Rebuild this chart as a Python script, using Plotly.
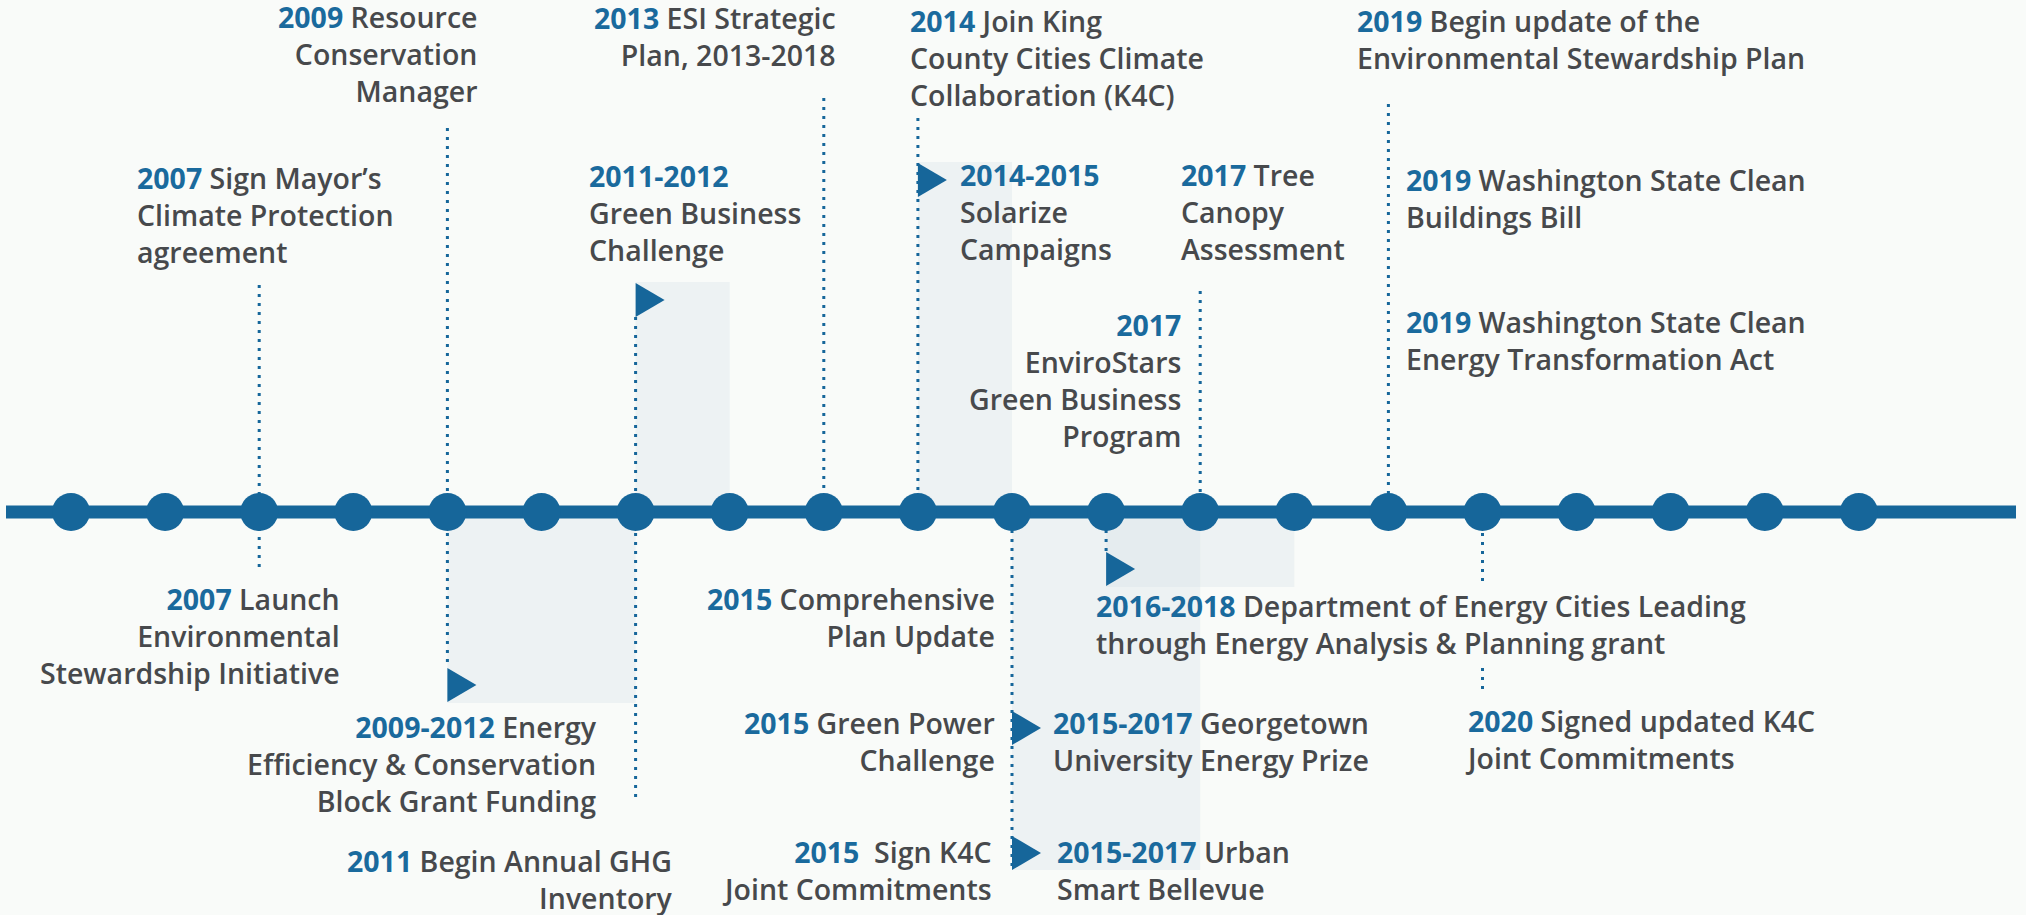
import plotly.graph_objects as go

# ---------------- data ----------------
timeline_years = [2005, 2006, 2007, 2008, 2009, 2010, 2011, 2012, 2013, 2014,
                  2015, 2016, 2017, 2018, 2019, 2020, 2021, 2022, 2023, 2024]

# milestone labels (anchor year, bold year label, description)
event_years = [2009, 2007, 2013, 2011, 2014, 2014, 2017, 2017, 2019, 2019, 2019,
               2007, 2009, 2011, 2015, 2016, 2015, 2015, 2015, 2015, 2020]
event_year_labels = ["2009", "2007", "2013", "2011-2012", "2014", "2014-2015", "2017", "2017",
                     "2019", "2019", "2019",
                     "2007", "2009-2012", "2011", "2015", "2016-2018", "2015", "2015-2017",
                     "2015 ", "2015-2017", "2020"]
event_texts = [
    " Resource\nConservation\nManager",
    " Sign Mayor’s\nClimate Protection\nagreement",
    " ESI Strategic\nPlan, 2013-2018",
    "\nGreen Business\nChallenge",
    " Join King\nCounty Cities Climate\nCollaboration (K4C)",
    "\nSolarize\nCampaigns",
    " Tree\nCanopy\nAssessment",
    "\nEnviroStars\nGreen Business\nProgram",
    " Begin update of the\nEnvironmental Stewardship Plan",
    " Washington State Clean\nBuildings Bill",
    " Washington State Clean\nEnergy Transformation Act",
    " Launch\nEnvironmental\nStewardship Initiative",
    " Energy\nEfficiency & Conservation\nBlock Grant Funding",
    " Begin Annual GHG\nInventory",
    " Comprehensive\nPlan Update",
    " Department of Energy Cities Leading\nthrough Energy Analysis & Planning grant",
    " Green Power\nChallenge",
    " Georgetown\nUniversity Energy Prize",
    " Sign K4C\nJoint Commitments",
    " Urban\nSmart Bellevue",
    " Signed updated K4C\nJoint Commitments",
]

# multi-year programmes (start year, end year)
span_starts = [2009, 2011, 2014, 2015, 2016]
span_ends = [2011, 2012, 2015, 2017, 2018]

# start markers (flags) for programmes
flag_years = [2011, 2014, 2009, 2016, 2015, 2015]

# connector years
connector_years = [2007, 2009, 2011, 2013, 2014, 2015, 2016, 2017, 2019, 2020, 2020]

# ---------------- layout / style ----------------
W, H = 2026, 915
PX_PER_YEAR = 94.1
X0_PX = 71.0                      # pixel of first timeline year
LINE_Y = 512
BLUE = "#16669a"
YEAR_BLUE = "#1a6a9d"
GRAY = "#47494c"
BG = "#f9fbf9"
SPAN_FILL = "rgba(214,224,231,0.33)"
FONT = "Open Sans"
FONT_SIZE = 28.5
Y_ADJ = -2.5

x_lo = timeline_years[0] - X0_PX / PX_PER_YEAR
x_hi = x_lo + W / PX_PER_YEAR

# label placement: (x shift px from anchor year, block centre y, side of anchor)
label_place = [
    (31, 56.5, "right"), (-123, 217.5, "left"), (13, 38.5, "right"), (-48, 215.5, "left"),
    (-9, 60.5, "left"), (41, 214.5, "left"), (-20, 214.5, "left"), (-18, 382.5, "right"),
    (-32, 42, "left"), (17, 201, "left"), (17, 343, "left"),
    (82, 638.5, "right"), (151, 766, "right"), (38, 882, "right"), (-16, 620, "right"),
    (-11, 626.5, "left"), (-16, 744, "right"), (40, 744, "left"), (-19, 872.5, "right"),
    (44, 872.5, "left"), (-19, 742, "left"),
]
span_y = [(512, 703), (282, 512), (162, 512), (512, 870), (512, 587)]
flag_y = [300, 180, 685, 569, 728, 853]
connector_y = [(285, 570), (128, 668), (317, 800), (98, 512), (118, 512), (512, 870),
               (512, 552), (291, 512), (104, 512), (533, 582), (668, 695)]
line_ends = (x_lo + 6 / PX_PER_YEAR, x_lo + 2016 / PX_PER_YEAR)

fig = go.Figure()
shapes = []

# shaded programme spans
for s, e, (ya, yb) in zip(span_starts, span_ends, span_y):
    shapes.append(dict(type="rect", xref="x", yref="y", x0=s, x1=e, y0=ya, y1=yb,
                       fillcolor=SPAN_FILL, line=dict(width=0), layer="below"))

# dotted connectors
for yr, (ya, yb) in zip(connector_years, connector_y):
    shapes.append(dict(type="line", xref="x", yref="y", x0=yr, x1=yr, y0=ya, y1=yb,
                       line=dict(color=BLUE, width=3, dash="3px,6px"), layer="below"))

# flags (right-pointing triangles)
for yr, yc in zip(flag_years, flag_y):
    shapes.append(dict(type="path", xref="x", yref="y", xsizemode="pixel", xanchor=yr,
                       path=f"M0,{yc-17} L29,{yc} L0,{yc+17} Z",
                       fillcolor=BLUE, line=dict(width=0), layer="above"))

# main timeline line
fig.add_trace(go.Scatter(x=list(line_ends), y=[LINE_Y, LINE_Y], mode="lines",
                         line=dict(color=BLUE, width=13), hoverinfo="skip", showlegend=False))
# year dots
fig.add_trace(go.Scatter(x=timeline_years, y=[LINE_Y] * len(timeline_years), mode="markers",
                         marker=dict(color=BLUE, size=38, line=dict(width=0)),
                         hoverinfo="x", showlegend=False))

annotations = []
for yr, ylab, txt, (dx, yc, side) in zip(event_years, event_year_labels, event_texts, label_place):
    label = ylab.replace(" ", "&nbsp;")
    html = (f"<span style='color:{YEAR_BLUE}'><b>{label}</b></span>"
            + txt.replace("\n", "<br>"))
    annotations.append(dict(x=yr, y=yc + Y_ADJ, xref="x", yref="y", text=html, showarrow=False,
                            xanchor=side, yanchor="middle", align=side, xshift=dx,
                            borderpad=0,
                            font=dict(family=FONT, size=FONT_SIZE, color=GRAY, weight=600)))

fig.update_layout(
    width=W, height=H, autosize=False,
    margin=dict(l=0, r=0, t=0, b=0, pad=0),
    paper_bgcolor=BG, plot_bgcolor=BG,
    xaxis=dict(range=[x_lo, x_hi], visible=False, fixedrange=True),
    yaxis=dict(range=[H, 0], visible=False, fixedrange=True),
    shapes=shapes, annotations=annotations,
    showlegend=False,
)

fig.write_html("out.html", config={"displayModeBar": False},
               post_script="document.body.style.margin='0';document.body.style.overflow='hidden';")
